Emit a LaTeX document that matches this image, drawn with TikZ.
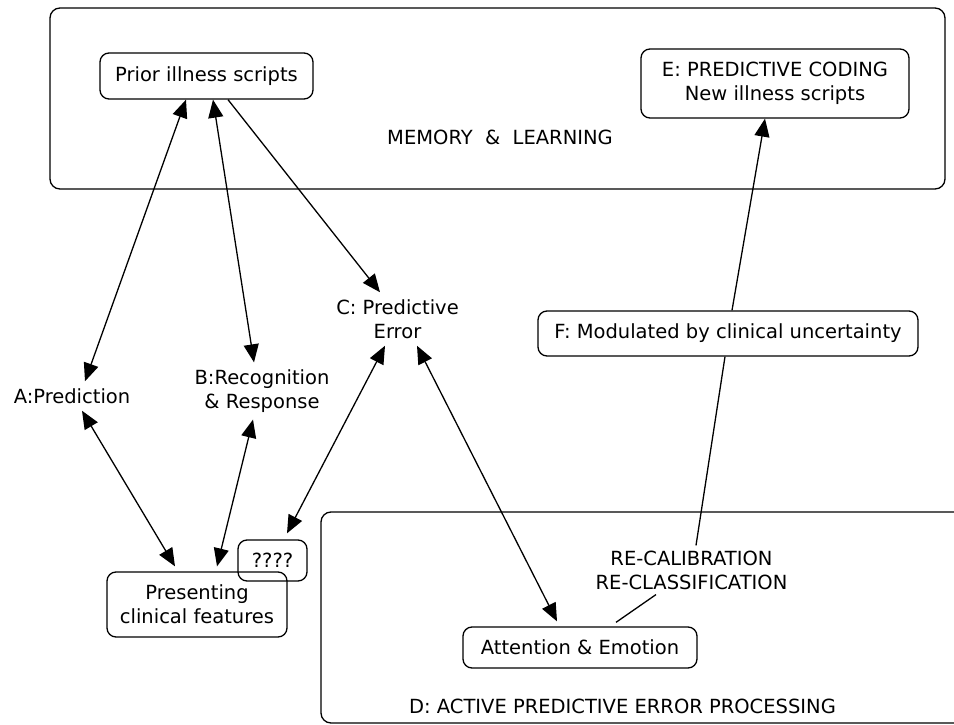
\documentclass[tikz,border=0pt]{standalone}
\usepackage{fontspec}
\setmainfont{DejaVu Sans}
\usetikzlibrary{arrows.meta}
\begin{document}
\begin{tikzpicture}[x=1pt,y=-1pt,
  every node/.style={font=\fontsize{19.5}{24}\selectfont, text=black},
  box/.style={draw, rounded corners=9pt, line width=1.3pt, inner sep=0pt, align=center},
  lbl/.style={align=center, inner sep=7pt},
  conn/.style={line width=1.3pt},
  tip/.style={-{Triangle[length=18pt,width=15pt]}},
  dtip/.style={{Triangle[length=18pt,width=15pt]}-{Triangle[length=18pt,width=15pt]}}
]
\useasboundingbox (0,0) rectangle (954,725);
\clip (0,0) rectangle (954,725);

% big frames
\node[box, rounded corners=10pt, minimum width=895pt, minimum height=181pt] (mem) at (497.5,98.5) {};
\node (memtxt) at (500,137) {MEMORY\ \ \&\ \ LEARNING};
\node[box, rounded corners=10pt, minimum width=659pt, minimum height=211pt] (dbox) at (650.5,617.5) {};
\node (dtxt) at (622.5,706.5) {D: ACTIVE PREDICTIVE ERROR PROCESSING};

% boxes
\node[box, minimum width=213pt, minimum height=46pt] (prior) at (206.5,76) {Prior illness scripts};
\node[box, minimum width=268pt, minimum height=69pt] (E) at (775,83.5) {E: PREDICTIVE CODING\\New illness scripts};
\node[box, minimum width=380pt, minimum height=45pt] (F) at (728,333.5) {F: Modulated by clinical uncertainty};
\node[box, minimum width=180pt, minimum height=65pt] (pres) at (197,604.5) {Presenting\\clinical features};
\node[box, minimum width=69pt, minimum height=41pt] (q) at (272.5,560.5) {????};
\node[box, minimum width=234pt, minimum height=41pt] (att) at (580,647.5) {Attention \& Emotion};

% labels
\node[lbl] (A) at (72,396) {A:Prediction};
\node[lbl] (B) at (262,391) {B:Recognition\\\& Response};
\node[lbl] (C) at (397.5,319) {C: Predictive\\Error};
\node[lbl, inner sep=5pt] (rc) at (691.5,570) {RE-CALIBRATION\\RE-CLASSIFICATION};

% connectors
\draw[conn,dtip] ([xshift=13pt]A.north) -- ([xshift=-20.5pt]prior.south);
\draw[conn,dtip] ([xshift=-8pt]B.north) -- ([xshift=6.5pt]prior.south);
\draw[conn,tip] ([xshift=21.5pt]prior.south) -- ([xshift=-17.5pt]C.north);
\draw[conn,dtip] ([xshift=10pt]A.south) -- ([xshift=-22pt,yshift=5pt]pres.north);
\draw[conn,dtip] ([xshift=-9pt]B.south) -- ([xshift=20pt,yshift=5pt]pres.north);
\draw[conn,dtip] ([xshift=-12.5pt]C.south) -- ([xshift=14.5pt,yshift=6pt]q.north);
\draw[conn,dtip] ([xshift=19.5pt]C.south) -- ([xshift=-23pt,yshift=5pt]att.north);
\draw[conn] ([xshift=4.5pt]rc.north) -- ([xshift=-3pt]F.south);
\draw[conn,tip] ([xshift=4pt]F.north) -- ([xshift=-10pt]E.south);
\draw[conn] ([xshift=-35.5pt]rc.south) -- ([xshift=36pt,yshift=4pt]att.north);
\end{tikzpicture}
\end{document}
